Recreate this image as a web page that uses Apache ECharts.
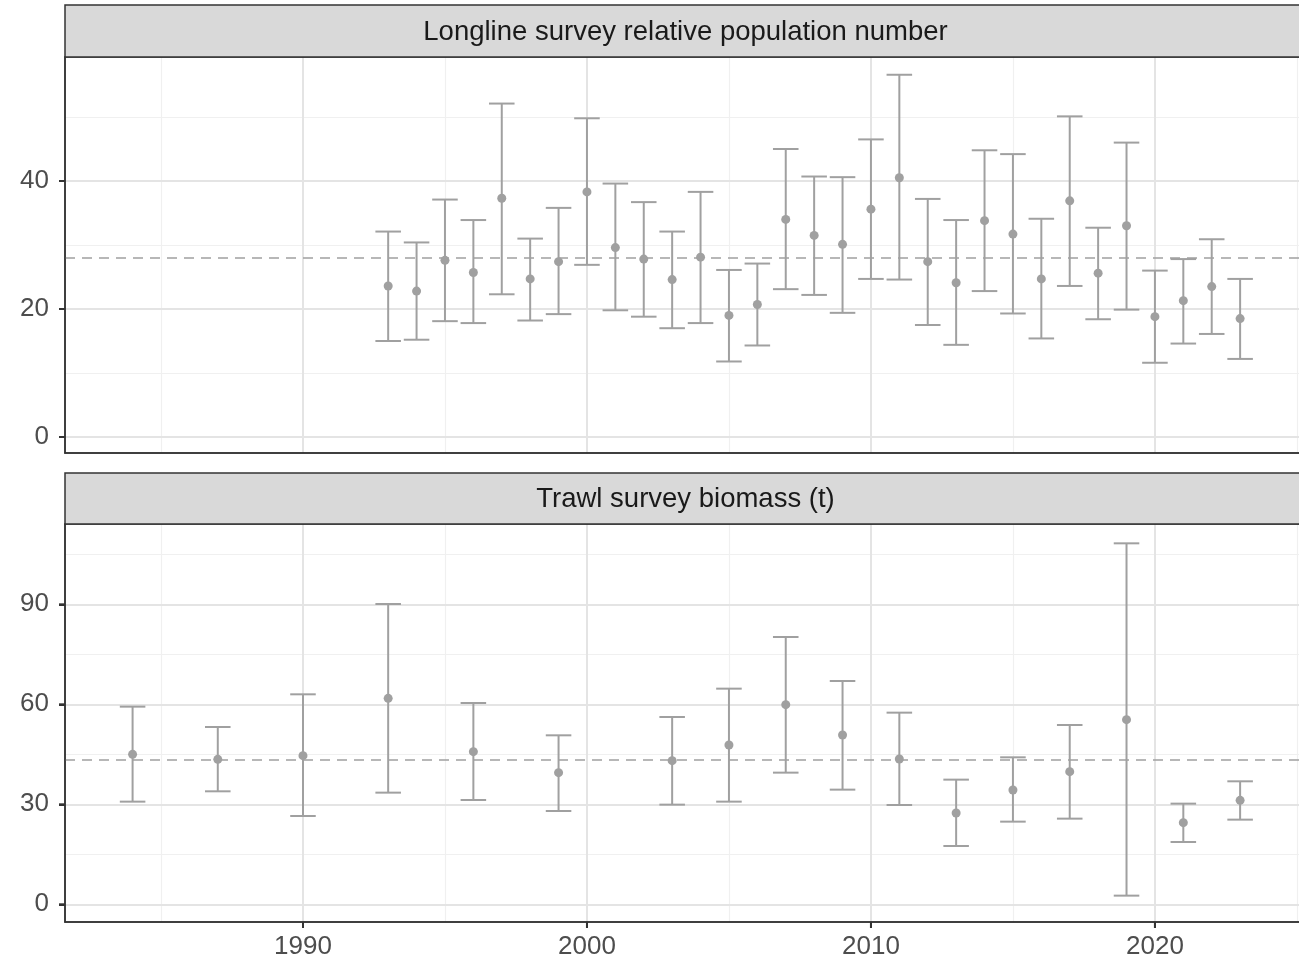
<!DOCTYPE html>
<html>
<head>
<meta charset="utf-8">
<title>Survey indices</title>
<script src="https://cdn.jsdelivr.net/npm/echarts@6/dist/echarts.min.js"></script>
<style>
  html, body { margin: 0; padding: 0; background: #fff; }
  #chart-container { width: 1299px; height: 963px; }
</style>
</head>
<body>
<div id="chart-container"></div>
<script>
// longline survey relative population number
const llYears = [1993, 1994, 1995, 1996, 1997, 1998, 1999, 2000, 2001, 2002, 2003, 2004, 2005, 2006, 2007, 2008,
    2009, 2010, 2011, 2012, 2013, 2014, 2015, 2016, 2017, 2018, 2019, 2020, 2021, 2022, 2023];
const llMid = [23.6, 22.8, 27.6, 25.7, 37.3, 24.7, 27.4, 38.3, 29.6, 27.8, 24.6, 28.1, 19.0, 20.7, 34.0, 31.5,
    30.1, 35.6, 40.5, 27.4, 24.1, 33.8, 31.7, 24.7, 36.9, 25.6, 33.0, 18.8, 21.3, 23.5, 18.5];
const llLow = [15.0, 15.2, 18.1, 17.8, 22.3, 18.2, 19.2, 26.9, 19.8, 18.8, 17.0, 17.8, 11.8, 14.3, 23.1, 22.2,
    19.4, 24.7, 24.6, 17.5, 14.4, 22.8, 19.3, 15.4, 23.6, 18.4, 19.9, 11.6, 14.6, 16.1, 12.2];
const llHigh = [32.1, 30.4, 37.1, 33.9, 52.1, 31.0, 35.8, 49.8, 39.6, 36.7, 32.1, 38.3, 26.1, 27.1, 45.0, 40.7,
    40.6, 46.5, 56.6, 37.2, 33.9, 44.8, 44.2, 34.1, 50.1, 32.7, 46.0, 26.0, 27.8, 30.9, 24.7];
const llMean = 28.0;

// trawl survey biomass (t)
const tsYears = [1984, 1987, 1990, 1993, 1996, 1999, 2003, 2005, 2007, 2009, 2011, 2013, 2015, 2017, 2019, 2021, 2023];
const tsMid = [45.0, 43.5, 44.6, 61.8, 45.8, 39.5, 43.1, 47.8, 59.9, 50.8, 43.6, 27.4, 34.3, 39.8, 55.4, 24.5, 31.2];
const tsLow = [30.8, 33.9, 26.5, 33.5, 31.3, 28.0, 29.9, 30.8, 39.5, 34.4, 29.8, 17.5, 24.8, 25.7, 2.6, 18.7, 25.4];
const tsHigh = [59.3, 53.2, 63.0, 90.1, 60.4, 50.7, 56.2, 64.7, 80.2, 67.0, 57.5, 37.4, 44.1, 53.8, 108.3, 30.2, 36.9];
const tsMean = 43.4;

// tick labels / grid breaks
const xMajor = [1990, 2000, 2010, 2020];
const xMinor = [1985, 1995, 2005, 2015, 2025];
const llYMajor = [0, 20, 40];
const llYMinor = [10, 30, 50];
const tsYMajor = [0, 30, 60, 90];
const tsYMinor = [15, 45, 75, 105];

const stripTitles = ['Longline survey relative population number', 'Trawl survey biomass (t)'];

const chartDom = document.getElementById('chart-container');
const myChart = echarts.init(chartDom, null, { renderer: 'canvas' });

const FONT = '"Liberation Sans", Arial, Helvetica, sans-serif';
const barColor = '#a0a0a0';
const GL = 65, GW = 1241;   // panel left / width (panel runs a bit past the right edge)
const X_MIN = 1981.62, X_MAX = 2025.32;
const panels = [
    { top: 57, height: 396, stripTop: 5, stripH: 52, yMin: -2.5, yMax: 59.375 },
    { top: 524, height: 398, stripTop: 473, stripH: 51, yMin: -5.31, yMax: 114.1 }
];

function renderErrorBar(params, api) {
    const x = api.value(0);
    const lo = api.coord([x, api.value(1)]);
    const hi = api.coord([x, api.value(2)]);
    const half = api.size([0.9, 0])[0] / 2;
    const style = { stroke: barColor, lineWidth: 2, fill: null };
    return {
        type: 'group',
        children: [
            { type: 'line', shape: { x1: lo[0], y1: lo[1], x2: hi[0], y2: hi[1] }, style: style },
            { type: 'line', shape: { x1: hi[0] - half, y1: hi[1], x2: hi[0] + half, y2: hi[1] }, style: style },
            { type: 'line', shape: { x1: lo[0] - half, y1: lo[1], x2: lo[0] + half, y2: lo[1] }, style: style }
        ]
    };
}

// background grid lines, drawn as mark lines through the axes
function gridLines(idx, yMajor, yMinor) {
    const minorStyle = { color: '#f0f0f0', width: 1.2, type: 'solid' };
    const majorStyle = { color: '#e4e4e4', width: 2, type: 'solid' };
    const data = [];
    xMinor.forEach(v => data.push({ xAxis: v, lineStyle: minorStyle }));
    yMinor.forEach(v => data.push({ yAxis: v, lineStyle: minorStyle }));
    xMajor.forEach(v => data.push({ xAxis: v, lineStyle: majorStyle }));
    yMajor.forEach(v => data.push({ yAxis: v, lineStyle: majorStyle }));
    return {
        type: 'line',
        xAxisIndex: idx,
        yAxisIndex: idx,
        data: [],
        silent: true,
        z: 0,
        markLine: {
            silent: true,
            z: 0,
            symbol: ['none', 'none'],
            label: { show: false },
            animation: false,
            data: data
        }
    };
}

const axisLineStyle = { color: '#333', width: 1.5 };
const tickStyle = { color: '#333', width: 2 };

function xAxisFor(idx) {
    return {
        type: 'value',
        gridIndex: idx,
        position: 'bottom',
        min: X_MIN,
        max: X_MAX,
        axisLine: { show: true, onZero: false, lineStyle: axisLineStyle },
        splitLine: { show: false },
        axisTick: { show: idx === 1, customValues: xMajor, length: 6, inside: false, lineStyle: tickStyle },
        axisLabel: { show: idx === 1, customValues: xMajor, color: '#4d4d4d', fontSize: 26,
            fontFamily: FONT, margin: 12, formatter: v => String(v) }
    };
}

function yAxisFor(idx, ticks) {
    return {
        type: 'value',
        gridIndex: idx,
        position: 'left',
        min: panels[idx].yMin,
        max: panels[idx].yMax,
        axisLine: { show: true, onZero: false, lineStyle: axisLineStyle },
        splitLine: { show: false },
        axisTick: { show: true, customValues: ticks, length: 6, inside: false, lineStyle: tickStyle },
        axisLabel: { customValues: ticks, color: '#4d4d4d', fontSize: 26, fontFamily: FONT, margin: 16,
            formatter: v => String(v) }
    };
}

function meanLine(value) {
    return {
        silent: true,
        z: 1,
        symbol: ['none', 'none'],
        label: { show: false },
        animation: false,
        lineStyle: { color: '#a0a0a0', width: 1.6, type: [10, 7] },
        data: [{ yAxis: value }]
    };
}

const graphics = [];
panels.forEach((p, i) => {
    graphics.push({
        type: 'rect',
        shape: { x: GL, y: p.stripTop, width: GW, height: p.stripH },
        style: { fill: '#d9d9d9', stroke: '#333', lineWidth: 1.5 },
        z: 10
    });
    graphics.push({
        type: 'text',
        x: GL + GW / 2,
        y: p.stripTop + p.stripH / 2 + 1,
        style: {
            text: stripTitles[i],
            fill: '#1a1a1a',
            font: '27.5px ' + FONT,
            textAlign: 'center',
            textVerticalAlign: 'middle'
        },
        z: 11
    });
});

const options = {
    backgroundColor: '#fff',
    animation: false,
    grid: panels.map(p => ({
        left: GL,
        top: p.top,
        width: GW,
        height: p.height,
        containLabel: false,
        outerBoundsMode: 'none',
        show: true,
        backgroundColor: 'transparent',
        borderColor: '#333',
        borderWidth: 1.5,
        z: 5
    })),
    xAxis: [xAxisFor(0), xAxisFor(1)],
    yAxis: [yAxisFor(0, llYMajor), yAxisFor(1, tsYMajor)],
    graphic: graphics,
    series: [
        gridLines(0, llYMajor, llYMinor),
        gridLines(1, tsYMajor, tsYMinor),
        {
            type: 'custom',
            xAxisIndex: 0,
            yAxisIndex: 0,
            renderItem: renderErrorBar,
            data: llYears.map((y, i) => [y, llLow[i], llHigh[i]]),
            z: 3
        },
        {
            type: 'scatter',
            xAxisIndex: 0,
            yAxisIndex: 0,
            symbolSize: 9,
            itemStyle: { color: barColor, opacity: 1 },
            data: llYears.map((y, i) => [y, llMid[i]]),
            markLine: meanLine(llMean),
            z: 4
        },
        {
            type: 'custom',
            xAxisIndex: 1,
            yAxisIndex: 1,
            renderItem: renderErrorBar,
            data: tsYears.map((y, i) => [y, tsLow[i], tsHigh[i]]),
            z: 3
        },
        {
            type: 'scatter',
            xAxisIndex: 1,
            yAxisIndex: 1,
            symbolSize: 9,
            itemStyle: { color: barColor, opacity: 1 },
            data: tsYears.map((y, i) => [y, tsMid[i]]),
            markLine: meanLine(tsMean),
            z: 4
        }
    ]
};

myChart.setOption(options);

// outside tick marks, placed through the axes' own scales
const tickLines = [];
const tickShape = { stroke: '#333', lineWidth: 2 };
xMajor.forEach(v => {
    const px = myChart.convertToPixel({ gridIndex: 1 }, [v, panels[1].yMin]);
    tickLines.push({ type: 'line', shape: { x1: px[0], y1: px[1], x2: px[0], y2: px[1] + 6 }, style: tickShape, z: 12 });
});
[llYMajor, tsYMajor].forEach((ticks, idx) => {
    ticks.forEach(v => {
        const px = myChart.convertToPixel({ gridIndex: idx }, [X_MIN, v]);
        tickLines.push({ type: 'line', shape: { x1: px[0] - 6, y1: px[1], x2: px[0], y2: px[1] }, style: tickShape, z: 12 });
    });
});
myChart.setOption({ graphic: graphics.concat(tickLines) });

window.addEventListener('resize', () => {
    myChart.resize();
});
</script>
</body>
</html>
